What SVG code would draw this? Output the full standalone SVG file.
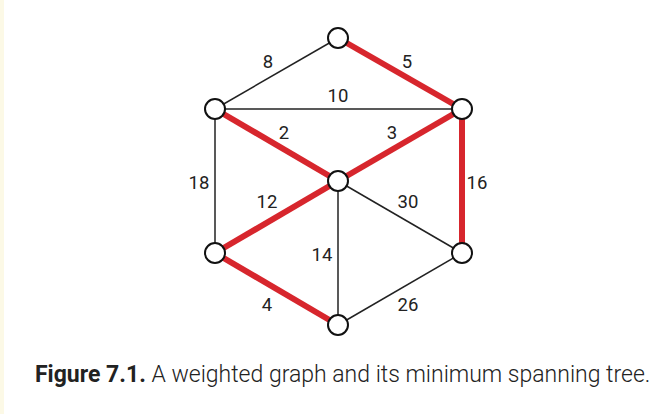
<svg xmlns="http://www.w3.org/2000/svg" width="658" height="414" viewBox="0 0 658 414">
<style>
.e{stroke:#222;stroke-width:1.5;fill:none}
.m{stroke:#d7262d;stroke-width:6;fill:none;stroke-linecap:butt}
.n{fill:#fff;stroke:#111;stroke-width:2}
.l{font-family:Roboto,"Liberation Sans",sans-serif;font-size:18.5px;fill:#222;text-anchor:middle}
.c{font-family:Roboto,"Liberation Sans",sans-serif;font-size:23px;fill:#222;font-weight:300}
</style>
<rect width="658" height="414" fill="#fff"/>
<rect x="0" y="0" width="4" height="414" fill="#fcf9e6"/>
<g id="connectors">
<line class="e" x1="338" y1="38" x2="215" y2="109"/>
<line class="e" x1="215" y1="109" x2="462" y2="109"/>
<line class="e" x1="215" y1="109" x2="215" y2="253"/>
<line class="e" x1="338" y1="181" x2="338" y2="325"/>
<line class="e" x1="338" y1="181" x2="462" y2="253"/>
<line class="e" x1="338" y1="325" x2="462" y2="253"/>
<line class="m" x1="338" y1="38" x2="462" y2="109"/>
<line class="m" x1="215" y1="109" x2="338" y2="181"/>
<line class="m" x1="462" y1="109" x2="338" y2="181"/>
<line class="m" x1="462" y1="109" x2="462" y2="253"/>
<line class="m" x1="338" y1="181" x2="215" y2="253"/>
<line class="m" x1="215" y1="253" x2="338" y2="325"/>
<text class="l" x="268" y="68">8</text>
<text class="l" x="407" y="68">5</text>
<text class="l" x="338" y="102">10</text>
<text class="l" x="284" y="139">2</text>
<text class="l" x="392" y="139">3</text>
<text class="l" x="199" y="189">18</text>
<text class="l" x="477" y="189">16</text>
<text class="l" x="267" y="208">12</text>
<text class="l" x="408" y="208">30</text>
<text class="l" x="322" y="261">14</text>
<text class="l" x="267" y="311">4</text>
<text class="l" x="408" y="311">26</text>
</g>
<g id="n1"><circle class="n" cx="338" cy="38" r="10"/></g>
<g id="n2"><circle class="n" cx="215" cy="109" r="10"/></g>
<g id="n3"><circle class="n" cx="462" cy="109" r="10"/></g>
<g id="n4"><circle class="n" cx="338" cy="181" r="10"/></g>
<g id="n5"><circle class="n" cx="215" cy="253" r="10"/></g>
<g id="n6"><circle class="n" cx="462" cy="253" r="10"/></g>
<g id="n7"><circle class="n" cx="338" cy="325" r="10"/></g>
<text class="c" x="35" y="382"><tspan font-weight="bold">Figure 7.1.</tspan> A weighted graph and its minimum spanning tree.</text>
</svg>
